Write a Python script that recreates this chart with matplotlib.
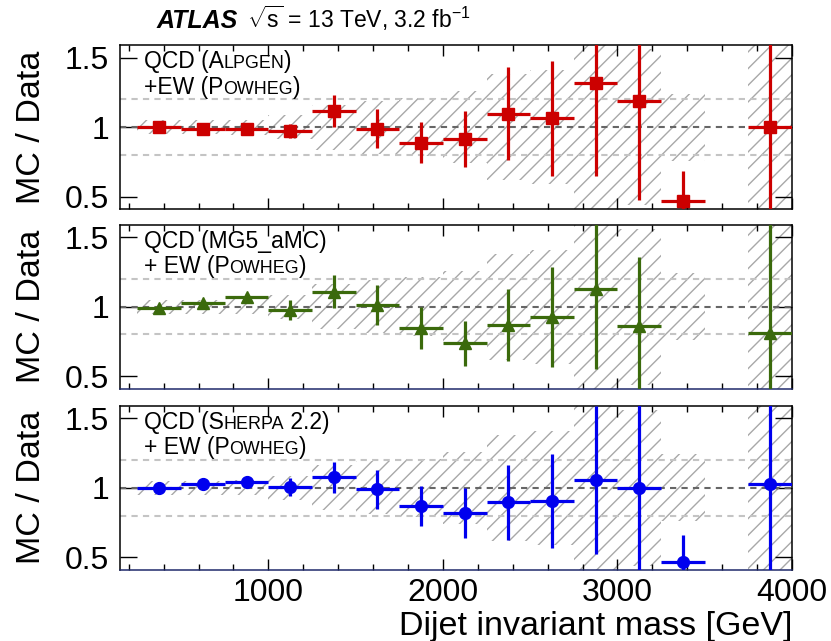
import matplotlib
matplotlib.use("Agg")
import matplotlib.pyplot as plt
import matplotlib.transforms as mtransforms
from matplotlib.ticker import MultipleLocator, FixedLocator, FixedFormatter
import numpy as np

plt.rcParams['font.family'] = ['Liberation Sans', 'DejaVu Sans']
plt.rcParams['mathtext.fontset'] = 'custom'
plt.rcParams['mathtext.rm'] = 'Liberation Sans'
plt.rcParams['mathtext.it'] = 'Liberation Sans:italic'
plt.rcParams['hatch.linewidth'] = 1.0

# bin centres of the dijet mass bins [GeV], 250 GeV wide
mass = [375, 625, 875, 1125, 1375, 1625, 1875, 2125, 2375, 2625, 2875, 3125, 3375, 3625, 3875]
bin_halfwidth = 125

# hatched uncertainty band around 1 (half height per bin)
band = [0.05, 0.05, 0.055, 0.085, 0.16, 0.19, 0.21, 0.26, 0.38, 0.41, 0.9, 0.56, 0.24, 0.0, 0.9]

nan = np.nan
alpgen_ratio = [1.00, 0.985, 0.985, 0.97, 1.117, 0.99, 0.89, 0.916, 1.096, 1.065, 1.317, 1.19, 0.472, nan, 1.004]
alpgen_err = [0.02, 0.02, 0.025, 0.05, 0.115, 0.14, 0.15, 0.2, 0.335, 0.415, 0.67, 0.71, 0.21, nan, 1.0]

mg5_ratio = [0.988, 1.024, 1.072, 0.976, 1.108, 1.012, 0.847, 0.736, 0.868, 0.928, 1.127, 0.861, nan, nan, 0.813]
mg5_err = [0.02, 0.02, 0.03, 0.07, 0.12, 0.145, 0.15, 0.16, 0.26, 0.36, 0.575, 0.5, nan, nan, 1.0]

sherpa_ratio = [0.995, 1.024, 1.043, 1.003, 1.075, 0.99, 0.87, 0.816, 0.895, 0.904, 1.055, 1.0, 0.463, nan, 1.03]
sherpa_err = [0.02, 0.02, 0.025, 0.066, 0.11, 0.14, 0.145, 0.18, 0.27, 0.34, 0.53, 0.7, 0.2, nan, 1.0]

panels = [
    (alpgen_ratio, alpgen_err, 's', '#cc0000',
     [[("QCD (A", 1.0), ("LPGEN", 0.78), (")", 1.0)],
      [("+EW (P", 1.0), ("OWHEG", 0.78), (")", 1.0)]]),
    (mg5_ratio, mg5_err, '^', '#3b6a0c',
     [[("QCD (MG5_aMC)", 1.0)],
      [("+ EW (P", 1.0), ("OWHEG", 0.78), (")", 1.0)]]),
    (sherpa_ratio, sherpa_err, 'o', '#0000ee',
     [[("QCD (S", 1.0), ("HERPA", 0.78), (" 2.2)", 1.0)],
      [("+ EW (P", 1.0), ("OWHEG", 0.78), (")", 1.0)]]),
]

fig = plt.figure(figsize=(8.31, 6.41), dpi=100)
renderer = fig.canvas.get_renderer()

LEFT, WIDTH, HEIGHT = 0.1444, 0.8087, 0.2559
bottoms = [0.6735, 0.3936, 0.1112]
LEG_SIZE = 16.5


def caps_text(ax, x, y, parts, size):
    # fake small caps: draw pieces one after another
    dx = 0.0
    for s, scale in parts:
        tr = mtransforms.offset_copy(ax.transAxes, fig=fig, x=dx, y=0, units='dots')
        t = ax.text(x, y, s, transform=tr, fontsize=size * scale, va='baseline', ha='left')
        dx += t.get_window_extent(renderer).width


for i, (ratio, err, marker, color, legend) in enumerate(panels):
    ax = fig.add_axes([LEFT, bottoms[i], WIDTH, HEIGHT])
    ax.set_xlim(150, 4000)
    ax.set_ylim(0.41, 1.59)

    ax.bar(mass, 2 * np.array(band), bottom=1 - np.array(band), width=2 * bin_halfwidth,
           fill=False, hatch='//', edgecolor='#a8a8a8', linewidth=0, zorder=1)

    ax.axhline(1.2, color='#c4c4c4', ls=(0, (3, 2.5)), lw=1.5, zorder=2)
    ax.axhline(0.8, color='#c4c4c4', ls=(0, (3, 2.5)), lw=1.5, zorder=2)
    ax.axhline(1.0, color='#666666', ls=(0, (3, 2.5)), lw=1.5, zorder=2)

    r = np.array(ratio)
    e = np.array(err)
    ok = ~np.isnan(r)
    ax.errorbar(np.array(mass)[ok], r[ok], xerr=bin_halfwidth, yerr=e[ok], fmt=marker,
                color=color, ms=8.5, lw=2.3, capsize=0, zorder=3)

    ax.xaxis.set_major_locator(MultipleLocator(1000))
    ax.xaxis.set_minor_locator(MultipleLocator(200))
    ax.yaxis.set_major_locator(FixedLocator([0.5, 1.0, 1.5]))
    ax.yaxis.set_major_formatter(FixedFormatter(['0.5', '1', '1.5']))
    ax.tick_params(which='both', direction='in', top=True, right=True, labelsize=23)
    ax.tick_params(axis='x', which='major', length=8, width=1.0)
    ax.tick_params(axis='x', which='minor', length=4, width=1.0)
    ax.tick_params(axis='y', which='major', length=12, width=1.0, pad=8)
    ax.tick_params(axis='x', which='major', pad=6)
    if i < 2:
        ax.tick_params(axis='x', labelbottom=False)
    for sp in ax.spines.values():
        sp.set_linewidth(1.1)
    if i > 0:
        ax.spines['bottom'].set_color('#1f2a6b')

    ax.set_ylabel('MC / Data', fontsize=24.5)
    ax.yaxis.set_label_coords(-0.132, 0.5)
    ax.yaxis.label.set_va('center')

    caps_text(ax, 0.035, 0.86, legend[0], LEG_SIZE)
    caps_text(ax, 0.035, 0.704, legend[1], LEG_SIZE)

    if i == 2:
        ax.set_xlabel('Dijet invariant mass [GeV]', fontsize=24.5, loc='right', labelpad=2)

fig.text(0.1886, 0.9558, 'ATLAS', fontsize=18, fontweight='bold', fontstyle='italic', va='baseline')
fig.text(0.2969, 0.9558, r'$\sqrt{\mathrm{s}}$ = 13 TeV, 3.2 fb$^{-1}$', fontsize=16.5, va='baseline')

fig.savefig('out.png', dpi=100)
